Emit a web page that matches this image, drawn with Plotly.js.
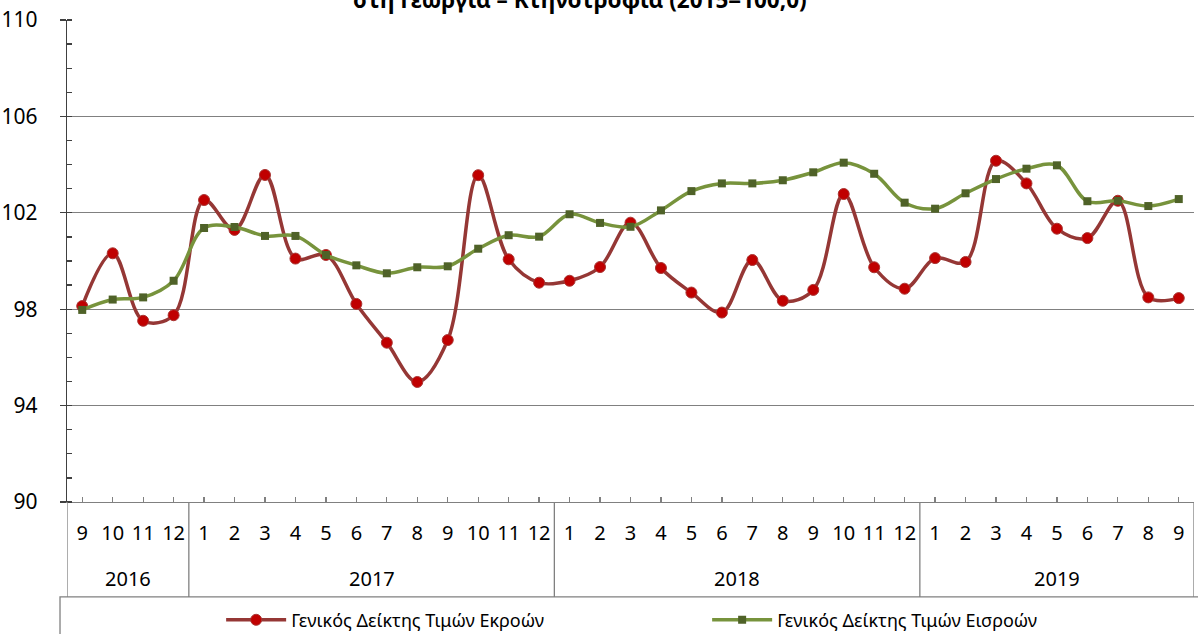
<!DOCTYPE html>
<html><head><meta charset="utf-8">
<script src="https://cdn.plot.ly/plotly-3.0.1.min.js"></script>
<style>html,body{margin:0;padding:0;background:#fff}#chart{width:1198px;height:634px}</style>
</head><body><div id="chart"></div>
<script>
const yearLabels = ['2016','2016','2016','2016',
  '2017','2017','2017','2017','2017','2017','2017','2017','2017','2017','2017','2017',
  '2018','2018','2018','2018','2018','2018','2018','2018','2018','2018','2018','2018',
  '2019','2019','2019','2019','2019','2019','2019','2019','2019'];
const monthLabels = ['9','10','11','12',
  '1','2','3','4','5','6','7','8','9','10','11','12',
  '1','2','3','4','5','6','7','8','9','10','11','12',
  '1','2','3','4','5','6','7','8','9'];
const outputIndex = [98.13,100.32,97.52,97.75,
  102.53,101.29,103.57,100.10,100.25,98.22,96.61,94.98,96.72,103.56,100.07,99.10,
  99.18,99.75,101.59,99.71,98.69,97.86,100.04,98.35,98.80,102.78,99.74,98.85,
  100.12,99.96,104.16,103.22,101.34,100.95,102.50,98.49,98.46];
const inputIndex = [97.97,98.40,98.49,99.18,
  101.37,101.41,101.04,101.04,100.25,99.82,99.49,99.74,99.78,100.51,101.07,101.01,
  101.94,101.58,101.42,102.10,102.90,103.22,103.22,103.35,103.68,104.08,103.62,102.42,
  102.17,102.81,103.40,103.83,103.97,102.48,102.50,102.28,102.57];
const seriesNames = ['Γενικός Δείκτης Τιμών Εκροών','Γενικός Δείκτης Τιμών Εισροών'];
const titleText = 'στη Γεωργία – Κτηνοτροφία (2015=100,0)';

const FONT = 'Noto Sans, DejaVu Sans, sans-serif';
const GRAY = '#808080';

// unique category keys (year-month), shown with month tick labels
const categories = yearLabels.map((y, i) => y + '-' + monthLabels[i]);
const n = categories.length;

// month boundaries (between categories) and year groups, derived from the label arrays
const boundaries = [];
for (let i = 0; i <= n; i++) boundaries.push(i - 0.5);
const groups = [];
yearLabels.forEach((y, i) => {
  const g = groups[groups.length - 1];
  if (g && g.year === y) g.end = i; else groups.push({year: y, start: i, end: i});
});

const traces = [
  {x: categories, y: outputIndex, name: seriesNames[0], type: 'scatter', mode: 'lines+markers',
   line: {color: '#953735', width: 3.5, shape: 'spline', smoothing: 1},
   marker: {symbol: 'circle', size: 11, color: '#C00000', line: {color: '#A93533', width: 1}}},
  {x: categories, y: inputIndex, name: seriesNames[1], type: 'scatter', mode: 'lines+markers',
   line: {color: '#77933C', width: 3.5, shape: 'spline', smoothing: 1},
   marker: {symbol: 'square', size: 8, color: '#4F6228', line: {width: 0}}}
];

const shapes = [];
// year dividers (outer edges + between years)
const divPos = [groups[0].start - 0.5].concat(groups.map(g => g.end + 0.5));
divPos.forEach(p => shapes.push({type: 'line', xref: 'x', yref: 'paper', x0: p, x1: p, y0: 0, y1: -0.197,
  line: {color: GRAY, width: 1.3}}));
// legend box
shapes.push({type: 'rect', xref: 'paper', yref: 'paper', x0: -0.0062, x1: 1.2, y0: -0.197, y1: -0.4,
  line: {color: GRAY, width: 1.3}, fillcolor: 'rgba(0,0,0,0)'});

const annotations = groups.map(g => ({
  text: g.year, xref: 'x', yref: 'paper', x: (g.start + g.end) / 2, y: -0.158,
  xanchor: 'center', yanchor: 'middle', showarrow: false,
  font: {family: FONT, size: 20, color: '#000'}
}));
annotations.push({text: '<b>' + titleText + '</b>', xref: 'paper', yref: 'paper', x: (580 - 67) / 1127, y: 1,
  xanchor: 'center', yanchor: 'middle', yshift: 21, showarrow: false,
  font: {family: FONT, size: 22.5, color: '#000'}});

const layout = {
  width: 1198, height: 634,
  margin: {l: 67, r: 4, t: 20, b: 132, autoexpand: false},
  paper_bgcolor: '#ffffff', plot_bgcolor: '#ffffff',
  font: {family: FONT, color: '#000000'},
  showlegend: true,
  legend: {orientation: 'h', x: 0.568, xanchor: 'center', y: -0.245, yanchor: 'middle',
    font: {family: FONT, size: 18, color: '#000'}, entrywidth: 411, entrywidthmode: 'pixels',
    itemwidth: 60, bgcolor: 'rgba(0,0,0,0)'},
  xaxis: {type: 'category', categoryorder: 'array', categoryarray: categories, range: [-0.5, n - 0.5],
    tickmode: 'array', tickvals: categories, ticktext: monthLabels, automargin: false,
    showline: true, linecolor: GRAY, linewidth: 1.3,
    ticks: 'inside', ticklen: 5, tickcolor: GRAY, tickwidth: 1.3, showgrid: false,
    tickfont: {family: FONT, size: 20, color: '#000'}, tickangle: 0, ticklabelstandoff: 13},
  xaxis2: {overlaying: 'x', anchor: 'y', side: 'bottom', type: 'linear', range: [-0.5, n - 0.5],
    tickmode: 'array', tickvals: boundaries, ticks: 'outside', ticklen: 60, automargin: false,
    tickcolor: GRAY, tickwidth: 1.3, showticklabels: false, showgrid: false, zeroline: false, showline: false},
  yaxis: {range: [90, 110], tick0: 90, dtick: 4, showgrid: true, gridcolor: GRAY, gridwidth: 1.3,
    showline: true, linecolor: '#404040', linewidth: 1.3, zeroline: false, automargin: false,
    ticks: 'outside', ticklen: 6, tickcolor: '#404040', tickwidth: 1.3,
    minor: {dtick: 1, ticks: 'inside', ticklen: 5, tickcolor: '#404040', tickwidth: 1.3, showgrid: false},
    tickfont: {family: FONT, size: 21, color: '#000'}, ticklabelstandoff: 18},
  shapes: shapes,
  annotations: annotations
};

Plotly.newPlot('chart', traces, layout, {staticPlot: true, displayModeBar: false});
</script>
</body></html>
